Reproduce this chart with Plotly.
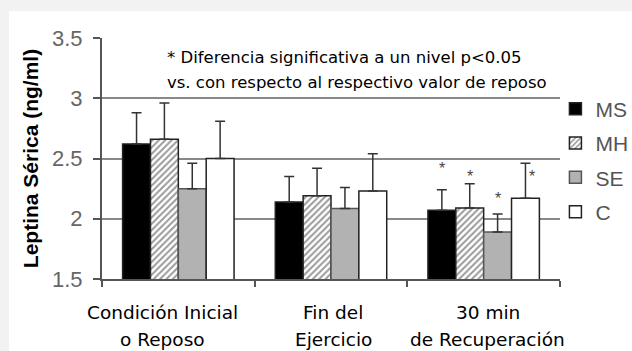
import plotly.graph_objects as go

# Serum leptin (ng/ml) at three moments, four groups
categories = ["Condición Inicial<br>o Reposo", "Fin del<br>Ejercicio", "30 min<br>de Recuperación"]
series_names = ["MS", "MH", "SE", "C"]
ms_mean = [2.62, 2.14, 2.07]
ms_err = [0.26, 0.21, 0.17]
mh_mean = [2.66, 2.19, 2.09]
mh_err = [0.30, 0.23, 0.20]
se_mean = [2.25, 2.085, 1.89]
se_err = [0.21, 0.175, 0.15]
c_mean = [2.50, 2.23, 2.17]
c_err = [0.31, 0.31, 0.29]

# significance marks (one per group) in the recovery category
sig_category = 2
sig_y = [2.45, 2.385, 2.20, 2.385]

y_ticks = [1.5, 2, 2.5, 3, 3.5]
y_title = "Leptina Sérica (ng/ml)"
note_lines = [
    "* Diferencia significativa a un nivel p<0.05",
    "vs. con respecto al respectivo valor de reposo",
]

means = [ms_mean, mh_mean, se_mean, c_mean]
errs = [ms_err, mh_err, se_err, c_err]

OUTLINE = "#222222"
markers = [
    dict(color="black", line=dict(color=OUTLINE, width=1.5)),
    dict(color="white", line=dict(color=OUTLINE, width=1.5),
         pattern=dict(shape="/", fgcolor="#333333", bgcolor="white",
                      size=4.5, solidity=0.45)),
    dict(color="#b2b2b2", line=dict(color="#555555", width=1.5)),
    dict(color="white", line=dict(color=OUTLINE, width=1.5)),
]

BARGAP = 0.27

fig = go.Figure()
for k, name in enumerate(series_names):
    fig.add_trace(go.Bar(
        x=categories, y=means[k], name=name,
        marker=markers[k],
        legendgroup=name,
        error_y=dict(type="data", symmetric=False, array=errs[k],
                     arrayminus=[0] * len(errs[k]),
                     color="#333333", thickness=1.5, width=5),
    ))

annotations = []

# two-line category labels under the axis
label_shift = [-16, 2, 4]
label_rows = [-0.141, -0.253]
for i, cat in enumerate(categories):
    for j, line in enumerate(cat.split("<br>")):
        annotations.append(dict(
            x=i, xref="x", y=label_rows[j], yref="paper",
            text=line, showarrow=False, xanchor="center", yanchor="middle",
            xshift=label_shift[i],
            font=dict(family="DejaVu Sans", size=18.5, color="black"),
        ))

# note inside the plot
for j, line in enumerate(note_lines):
    annotations.append(dict(
        x=0.1376, xref="paper", y=[0.921, 0.817][j], yref="paper",
        text=line, showarrow=False, xanchor="left", yanchor="middle",
        font=dict(family="DejaVu Sans", size=16.5, color="black"),
    ))

# asterisks above the recovery bars
bar_w = (1 - BARGAP) / len(series_names)
star_dx = [0, 0, 0, 7]
for k in range(len(series_names)):
    annotations.append(dict(
        x=sig_category + (k - 1.5) * bar_w, xref="x", y=sig_y[k], yref="y",
        text="*", showarrow=False, xanchor="center", yanchor="middle",
        xshift=star_dx[k], yshift=-4,
        font=dict(family="Liberation Sans", size=16, color="#444444"),
    ))

fig.update_layout(
    width=632, height=351,
    margin=dict(l=102, r=72, t=38, b=72, autoexpand=False),
    paper_bgcolor="#f2f2f2",
    plot_bgcolor="white",
    barmode="group", bargap=BARGAP, bargroupgap=0,
    showlegend=True,
    legend=dict(
        x=0.99, y=0.79, xanchor="left", yanchor="top",
        font=dict(family="Liberation Sans", size=21, color="#555555"),
        bgcolor="rgba(0,0,0,0)", traceorder="grouped", tracegroupgap=4,
        itemwidth=30,
    ),
    shapes=[dict(
        type="rect", xref="paper", yref="paper",
        x0=-0.2031, x1=1.3, y0=-0.5, y1=1.112,
        fillcolor="white", line=dict(width=0), layer="below",
    )],
    annotations=annotations,
)

fig.update_xaxes(
    type="category", range=[-0.5, len(categories) - 0.5],
    showline=True, linecolor="#555555", linewidth=2,
    ticks="outside", tickson="boundaries", ticklen=6, tickwidth=2,
    tickcolor="#555555", showticklabels=False, showgrid=False,
)
fig.update_yaxes(
    range=[1.5, 3.5], tickvals=y_ticks,
    showgrid=True, gridcolor="#888888", gridwidth=2,
    showline=True, linecolor="#555555", linewidth=2,
    ticks="outside", ticklen=7, tickwidth=2, tickcolor="#555555",
    tickfont=dict(family="Liberation Sans", size=22, color="#666666"),
    ticklabelstandoff=6,
    title=dict(text="<b>" + y_title + "</b>", standoff=8,
               font=dict(family="Liberation Sans", size=21, color="black")),
    zeroline=False,
)

fig.write_html("out.html")
